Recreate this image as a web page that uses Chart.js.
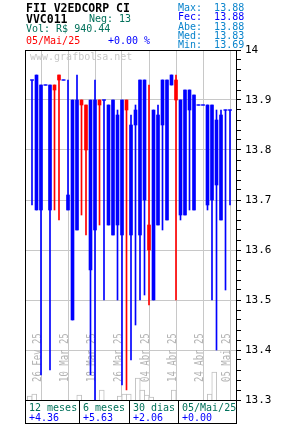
<!DOCTYPE html>
<html lang="pt">

<head>
    <meta charset="UTF-8">
    <title>VVC011</title>
    <script src="https://cdn.jsdelivr.net/npm/chart.js"></script>
    <style>
        body { margin: 0; background: #fff; }
        #wrap { position: relative; width: 285px; height: 425px; overflow: hidden;
            font-family: "DejaVu Sans Mono", monospace; font-size: 10px; line-height: 10px; }
        #wrap div { position: absolute; white-space: pre; }
        canvas { position: absolute; left: 0; top: 0; }
        .teal { color: #00705a; }
        .blue { color: #0000ff; }
        .red { color: #ff0000; }
        .lb { color: #0a84cc; }
        .cell { top: 400px; height: 24px; box-sizing: border-box; border-right: 1px solid #000;
            border-bottom: 1px solid #000; padding: 3px 0 0 3px; line-height: 9.5px; }
    </style>
</head>

<body>
    <div id="wrap">
        <canvas id="myChart1" width="285" height="425"></canvas>
        <div style="left:26px;top:3px;font-weight:bold;font-size:11.5px;">FII V2EDCORP CI</div>
        <div style="left:26px;top:14px;font-weight:bold;font-size:11.5px;">VVC011</div>
        <div class="teal" style="left:89px;top:14px;">Neg: 13</div>
        <div class="teal" style="left:26px;top:24px;">Vol: R$ 940.44</div>
        <div class="red" style="left:26px;top:36px;">05/Mai/25</div>
        <div class="blue" style="left:108px;top:36px;">+0.00 %</div>
        <div class="lb" style="left:178px;top:3px;">Max:  13.88</div>
        <div class="blue" style="left:178px;top:12.3px;">Fec:  13.88</div>
        <div class="lb" style="left:178px;top:21.6px;">Abe:  13.88</div>
        <div class="lb" style="left:178px;top:30.9px;">Med:  13.83</div>
        <div class="lb" style="left:178px;top:40.2px;">Min:  13.69</div>
        <div style="left:30px;top:52px;color:#c8c8c8;">www.grafbolsa.net</div>
        <div class="cell" style="left:25px;width:55px;border-left:1px solid #000;"><span class="teal">12 meses</span>
<span class="blue">+4.36</span></div>
        <div class="cell" style="left:80px;width:50px;"><span class="teal">6 meses</span>
<span class="blue">+5.63</span></div>
        <div class="cell" style="left:130px;width:49px;"><span class="teal">30 dias</span>
<span class="blue">+2.06</span></div>
        <div class="cell" style="left:179px;width:58px;"><span class="teal">05/Mai/25</span>
<span class="blue">+0.00</span></div>
    </div>
</body>
<script>
    // daily candles, oldest first
    const opens = [13.94, 13.68, 13.68, 13.93, 13.68, 13.93, 13.95, 13.94, 13.68, 13.46,
        13.64, 13.90, 13.89, 13.56, 13.64, 13.90, 13.90, 13.65, 13.63, 13.65,
        13.63, 13.90, 13.63, 13.85, 13.63, 13.70, 13.65, 13.50, 13.65, 13.85,
        13.66, 13.93, 13.94, 13.67, 13.67, 13.88, 13.68, 13.89, 13.89, 13.69,
        13.70, 13.73, 13.66, 13.88, 13.88];
    const highs = [13.94, 13.95, 13.93, 13.93, 13.93, 13.93, 13.95, 13.94, 13.94, 13.90,
        13.95, 13.90, 13.89, 13.90, 13.94, 13.90, 13.90, 13.89, 13.90, 13.88,
        13.90, 13.90, 13.87, 13.89, 13.94, 13.94, 13.93, 13.88, 13.89, 13.94,
        13.94, 13.95, 13.95, 13.90, 13.92, 13.92, 13.91, 13.89, 13.89, 13.89,
        13.89, 13.88, 13.88, 13.88, 13.88];
    const lows = [13.69, 13.68, 13.35, 13.93, 13.36, 13.68, 13.66, 13.94, 13.68, 13.46,
        13.64, 13.67, 13.63, 13.35, 13.30, 13.65, 13.50, 13.65, 13.63, 13.50,
        13.33, 13.32, 13.38, 13.45, 13.50, 13.51, 13.49, 13.50, 13.65, 13.64,
        13.66, 13.93, 13.50, 13.66, 13.67, 13.68, 13.68, 13.89, 13.89, 13.68,
        13.50, 13.40, 13.66, 13.52, 13.69];
    const closes = [13.94, 13.95, 13.93, 13.93, 13.93, 13.92, 13.94, 13.94, 13.71, 13.90,
        13.90, 13.89, 13.80, 13.90, 13.90, 13.89, 13.90, 13.89, 13.90, 13.87,
        13.90, 13.88, 13.85, 13.88, 13.94, 13.94, 13.60, 13.88, 13.87, 13.94,
        13.94, 13.95, 13.90, 13.90, 13.92, 13.92, 13.91, 13.89, 13.89, 13.89,
        13.89, 13.86, 13.87, 13.88, 13.88];
    const volumes = [4, 6, 0, 0, 0, 0, 0, 0, 0, 0,
        0, 5, 0, 0, 0, 0, 10, 0, 0, 0,
        4, 6, 6, 0, 22, 10, 5, 3, 0, 0,
        0, 0, 10, 0, 0, 0, 0, 0, 0, 0,
        6, 28, 0, 0, 0];
    const xLabels = ["26 Fev 25", "10 Mar 25", "18 Mar 25", "26 Mar 25", "04 Abr 25", "14 Abr 25", "24 Abr 25", "05 Mai 25"];
    const labelIdx = [2, 8, 14, 20, 26, 32, 38, 44];
</script>

<script>
    const ctx = document.getElementById("myChart1");
    const colors = opens.map((o, i) => (closes[i] < o ? "#ff0000" : "#0000ff"));

    const extras = {
        id: "extras",
        beforeDatasetsDraw(chart) {
            const c = chart.ctx, xs = chart.scales.x;
            c.save();
            c.fillStyle = "#b4b4b4";
            c.font = '9px "DejaVu Sans Mono"';
            labelIdx.forEach((idx, k) => {
                c.save();
                c.translate(Math.round(xs.getPixelForValue(idx)) - 0.5, 382);
                c.rotate(-Math.PI / 2);
                c.scale(1, 1.35);
                c.fillText(xLabels[k], 0, 0);
                c.restore();
            });
            c.restore();
        },
        afterDraw(chart) {
            const c = chart.ctx, a = chart.chartArea;
            c.save();
            c.strokeStyle = "#000";
            c.lineWidth = 1;
            c.strokeRect(a.left - 0.5, a.top + 0.5, a.right - a.left + 1, a.bottom - a.top);
            c.restore();
        }
    };

    new Chart(ctx, {
        type: "bar",
        data: {
            datasets: [
                {
                    type: "line",
                    showLine: false,
                    data: opens.map((o, i) => ({ x: i, y: closes[i] })).filter((p, i) => opens[i] === closes[i]),
                    pointStyle: "line",
                    pointRadius: 2,
                    pointBorderWidth: 1,
                    pointBorderColor: "#0000ff",
                    order: 0,
                },
                {
                    data: opens.map((o, i) => ({ x: i, y: [o, closes[i]] })),
                    backgroundColor: colors,
                    barThickness: 3,
                    grouped: false,
                    order: 1,
                },
                {
                    data: lows.map((l, i) => ({ x: i, y: [l, highs[i]] })),
                    backgroundColor: colors,
                    barThickness: 1,
                    grouped: false,
                    order: 2,
                },
                {
                    data: volumes.map((v, i) => ({ x: i - 0.5, y: v })),
                    yAxisID: "yv",
                    backgroundColor: "#fff",
                    borderColor: "#c0c0c0",
                    borderWidth: 1,
                    barThickness: 5,
                    grouped: false,
                    order: 3,
                },
            ],
        },
        options: {
            responsive: false,
            animation: false,
            layout: { padding: { left: 26, top: 50, right: 0, bottom: 25 } },
            plugins: { legend: { display: false }, tooltip: { enabled: false } },
            scales: {
                x: {
                    type: "linear",
                    min: -4 / 3,
                    max: 136 / 3,
                    offset: false,
                    afterBuildTicks: (s) => { s.ticks = labelIdx.map((v) => ({ value: v })); },
                    afterFit: (s) => { s.height = 0; },
                    ticks: { display: false },
                    grid: { offset: false, color: "#c8c8c8", drawTicks: false },
                    border: { display: false },
                },
                y: {
                    position: "right",
                    min: 13.3,
                    max: 14,
                    afterFit: (s) => { s.width = 49; },
                    ticks: {
                        stepSize: 0.02,
                        maxTicksLimit: 50,
                        autoSkip: false,
                        padding: 4,
                        color: "#000",
                        font: { family: "DejaVu Sans Mono", size: 11 },
                        callback: (value) => {
                            const v = Math.round(value * 100);
                            if (v % 10 !== 0) return "";
                            return v % 100 === 0 ? String(v / 100) : (v / 100).toFixed(1);
                        },
                    },
                    grid: {
                        color: (c) => (c.tick && Math.round(c.tick.value * 100) % 10 === 0 ? "#c8c8c8" : "rgba(0,0,0,0)"),
                        tickColor: "#000",
                        tickLength: 5,
                    },
                    border: { display: false },
                },
                yv: { display: false, min: 0, max: 350 },
            },
        },
        plugins: [extras],
    });
</script>

</html>
